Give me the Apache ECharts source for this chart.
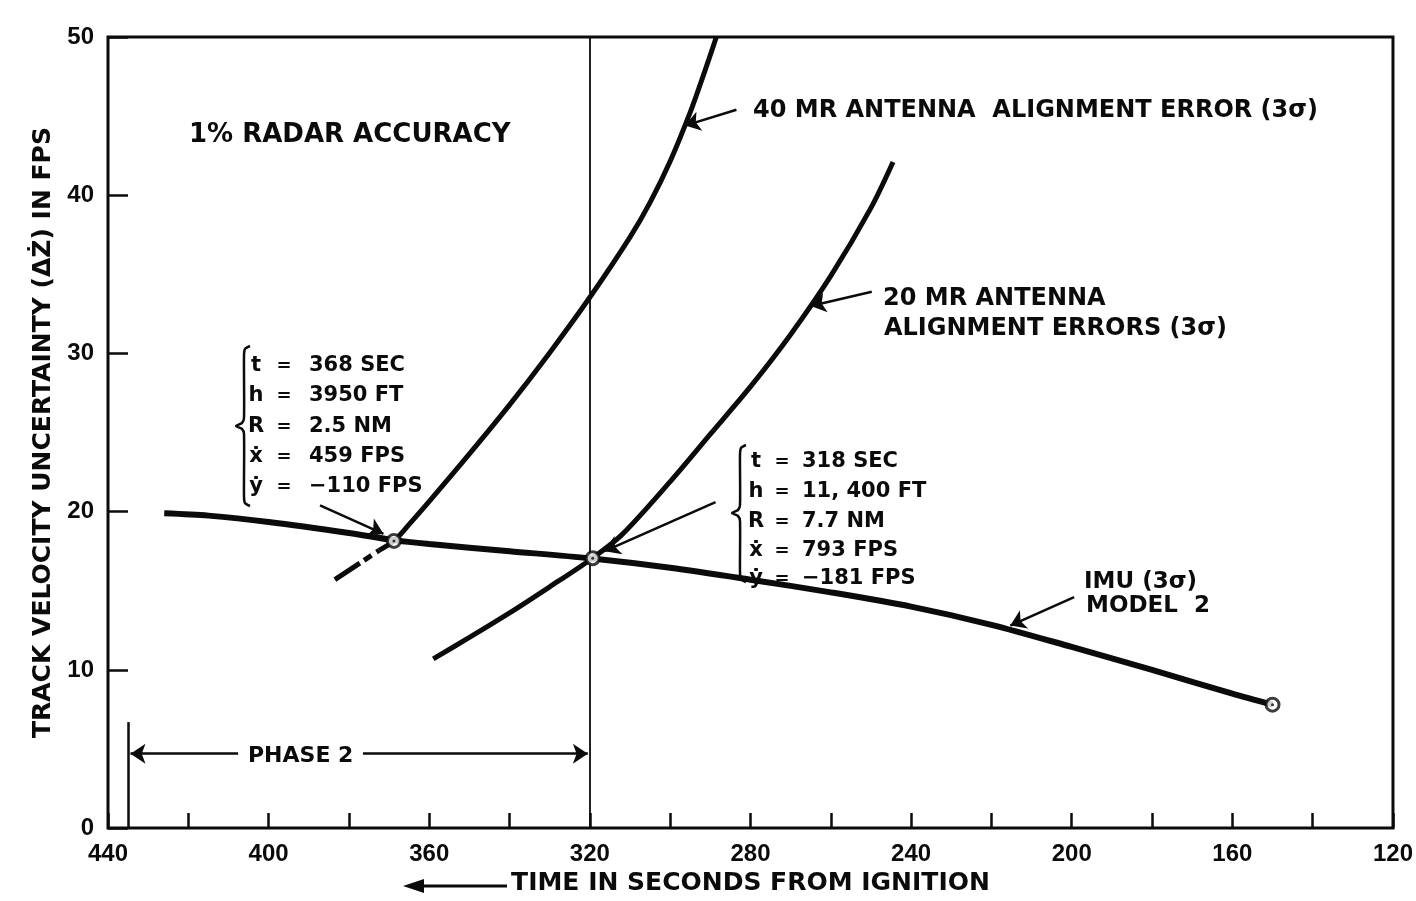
<!DOCTYPE html>
<html>
<head>
<meta charset="utf-8">
<script src="https://cdn.jsdelivr.net/npm/echarts@6/dist/echarts.min.js"></script>
<style>
  html, body { margin: 0; padding: 0; background: #fff; }
  #chart { width: 1416px; height: 901px; }
</style>
</head>
<body>
<div id="chart"></div>
<script>
// ---------------- data ----------------
const xTickLabels = [440, 400, 360, 320, 280, 240, 200, 160, 120];
const yTickLabels = [0, 10, 20, 30, 40, 50];

// IMU (3 sigma) model 2
const imuTime = [426, 415, 400, 380, 369, 360, 340, 320, 300, 280, 260, 240, 220, 200, 180, 160, 150];
const imuVal  = [19.9, 19.75, 19.35, 18.65, 18.2, 17.95, 17.5, 17.05, 16.45, 15.7, 14.9, 14.0, 12.85, 11.45, 10.0, 8.5, 7.8];

// 40 MR antenna alignment error (first 3 points are the dashed extension)
const mr40Time = [383.5, 377, 372.5, 368.8, 365, 360, 350, 340, 330, 320, 310, 305, 300, 295, 291.5, 288.5];
const mr40Val  = [15.7, 16.8, 17.55, 18.15, 19.2, 20.65, 23.65, 26.75, 30.05, 33.55, 37.35, 39.55, 42.15, 45.25, 47.75, 50];

// 20 MR antenna alignment errors
const mr20Time = [359, 350, 340, 330, 320, 312, 300, 290, 280, 270, 260, 250, 244.5];
const mr20Val  = [10.7, 12.05, 13.6, 15.25, 16.95, 18.55, 21.9, 24.9, 27.9, 31.2, 34.9, 39.2, 42.1];

// marked points (intersections and IMU end)
const markTime = [368.8, 319.3, 150];
const markVal  = [18.15, 17.05, 7.8];

// phase 2 limits (seconds)
const phaseStart = 435;
const phaseEnd = 320;

// annotation texts
const leftNote  = [['t', '368 SEC'], ['h', '3950 FT'], ['R', '2.5 NM'], ['ẋ', '459 FPS'], ['ẏ', '−110 FPS']];
const rightNote = [['t', '318 SEC'], ['h', '11, 400 FT'], ['R', '7.7 NM'], ['ẋ', '793 FPS'], ['ẏ', '−181 FPS']];

// ---------------- chart ----------------
const INK = '#0b0b0b';
const WORD = '"DejaVu Sans", "Liberation Sans", sans-serif';
const NUM = '"Liberation Sans", Arial, sans-serif';
const pair = (ts, vs) => ts.map((t, i) => [t, vs[i]]);

// annotation arrows, data units [time, value] -> [time, value]
const arrowLines = [
  [[283.5, 45.4], [296.3, 44.4]],
  [[249.8, 33.9], [265.0, 33.0]],
  [[199.4, 14.6], [215.3, 12.8]],
  [[387.2, 20.4], [371.4, 18.6]],
  [[288.7, 20.6], [316.3, 17.5]],
  [[407.6, 4.7], [phaseStart - 0.6, 4.7]],
  [[376.5, 4.7], [phaseEnd + 0.5, 4.7]]
];

const chart = echarts.init(document.getElementById('chart'), null, { renderer: 'canvas' });

function txt(x, y, text, size, align, family) {
  return {
    type: 'text', x: x, y: y, z: 50,
    style: {
      text: text, fill: INK,
      font: 'bold ' + size + 'px ' + (family || WORD),
      align: align || 'left', verticalAlign: 'middle',
      textAlign: align || 'left', textVerticalAlign: 'middle'
    }
  };
}
function brace(x0, yTop, yBot, yTip) {
  return {
    type: 'polyline', z: 50,
    shape: {
      points: [[x0 + 6, yTop], [x0 + 1, yTop + 3], [x0, yTop + 10], [x0, yTip - 8], [x0 - 2, yTip - 3], [x0 - 8, yTip],
               [x0 - 2, yTip + 3], [x0, yTip + 8], [x0, yBot - 10], [x0 + 1, yBot - 3], [x0 + 6, yBot]],
      smooth: 0.25
    },
    style: { stroke: INK, lineWidth: 2.5, fill: null }
  };
}

const graphics = [];
graphics.push(txt(189, 135, '1% RADAR ACCURACY', 26));
graphics.push(txt(753, 111, '40 MR ANTENNA  ALIGNMENT ERROR (3σ)', 24));
graphics.push(txt(883, 299, '20 MR ANTENNA', 24));
graphics.push(txt(884, 329, 'ALIGNMENT ERRORS (3σ)', 24));
graphics.push(txt(1084, 582, 'IMU (3σ)', 23));
graphics.push(txt(1086, 606, 'MODEL  2', 23));
graphics.push(txt(248, 756, 'PHASE 2', 22));

const leftRows = [366, 396, 427, 457, 487];
leftNote.forEach((r, i) => {
  graphics.push(txt(256, leftRows[i], r[0], 21, 'center'));
  graphics.push(txt(284, leftRows[i], '=', 18, 'center'));
  graphics.push(txt(309, leftRows[i], r[1], 21));
});
graphics.push(brace(244, 346, 506, 426));

const rightRows = [462, 492, 522, 551, 579];
rightNote.forEach((r, i) => {
  graphics.push(txt(756, rightRows[i], r[0], 21, 'center'));
  graphics.push(txt(782, rightRows[i], '=', 18, 'center'));
  graphics.push(txt(802, rightRows[i], r[1], 21));
});
graphics.push(brace(740, 445, 582, 513));

// arrow in front of the x-axis title
graphics.push({ type: 'line', z: 50, shape: { x1: 418, y1: 886, x2: 507, y2: 886 }, style: { stroke: INK, lineWidth: 3 } });
graphics.push({ type: 'polygon', z: 50, shape: { points: [[403, 886], [424, 879], [424, 893]] }, style: { fill: INK } });

chart.setOption({
  animation: false,
  backgroundColor: '#fff',
  grid: { left: 108, right: 15, top: 37, bottom: 69, show: true, borderColor: INK, borderWidth: 3, backgroundColor: 'transparent' },
  xAxis: {
    type: 'value', inverse: true, min: 120, max: 440, interval: 20,
    axisLine: { show: false },
    axisTick: { show: true, inside: true, length: 15, lineStyle: { color: INK, width: 2.5 } },
    splitLine: { show: false },
    axisLabel: {
      margin: 14, color: INK, fontFamily: NUM, fontWeight: 'bold', fontSize: 24,
      formatter: v => (xTickLabels.indexOf(v) >= 0 ? String(v) : '')
    },
    name: 'TIME IN SECONDS FROM IGNITION', nameLocation: 'middle', nameGap: 40,
    nameTextStyle: { color: INK, fontFamily: WORD, fontWeight: 'bold', fontSize: 25 }
  },
  yAxis: {
    type: 'value', min: 0, max: 50, interval: 10,
    axisLine: { show: false },
    axisTick: { show: true, inside: true, length: 20, lineStyle: { color: INK, width: 2.5 } },
    splitLine: { show: false },
    axisLabel: {
      margin: 14, color: INK, fontFamily: NUM, fontWeight: 'bold', fontSize: 24,
      formatter: v => (yTickLabels.indexOf(v) >= 0 ? String(v) : '')
    },
    name: 'TRACK VELOCITY UNCERTAINTY (ΔŻ) IN FPS', nameLocation: 'middle', nameGap: 50,
    nameTextStyle: { color: INK, fontFamily: WORD, fontWeight: 'bold', fontSize: 25 }
  },
  graphic: graphics,
  series: [
    {
      name: 'IMU (3σ) MODEL 2', type: 'line', data: pair(imuTime, imuVal),
      smooth: 0.3, symbol: 'none', z: 5,
      lineStyle: { color: INK, width: 6 },
      markLine: {
        silent: true, animation: false, symbol: ['none', 'arrow'], symbolSize: 15,
        label: { show: false },
        lineStyle: { color: INK, width: 2.5, type: 'solid' },
        itemStyle: { color: INK },
        emphasis: { disabled: true },
        data: arrowLines.map(a => [{ coord: a[0] }, { coord: a[1] }])
      }
    },
    {
      name: 'phase lines', type: 'line', data: [], z: 2,
      markLine: {
        silent: true, animation: false, symbol: 'none', label: { show: false },
        emphasis: { disabled: true },
        data: [
          [{ coord: [phaseEnd, 0], lineStyle: { color: INK, width: 1.8, type: 'solid' } },
           { coord: [phaseEnd, 50] }],
          [{ coord: [phaseStart, 0], lineStyle: { color: INK, width: 2.5, type: 'solid' } },
           { coord: [phaseStart, 6.7] }]
        ]
      }
    },
    {
      name: '40 MR dashed', type: 'line', data: pair(mr40Time.slice(0, 3), mr40Val.slice(0, 3)),
      symbol: 'none', z: 5,
      lineStyle: { color: INK, width: 5, type: [30, 5, 9, 6] }
    },
    {
      name: '40 MR ANTENNA ALIGNMENT ERROR (3σ)', type: 'line', data: pair(mr40Time.slice(2), mr40Val.slice(2)),
      smooth: 0.3, symbol: 'none', z: 5,
      lineStyle: { color: INK, width: 5 }
    },
    {
      name: '20 MR ANTENNA ALIGNMENT ERRORS (3σ)', type: 'line', data: pair(mr20Time, mr20Val),
      smooth: 0.3, symbol: 'none', z: 5,
      lineStyle: { color: INK, width: 5 }
    },
    {
      name: 'points', type: 'scatter', data: pair(markTime, markVal), z: 10,
      symbol: 'circle', symbolSize: 13,
      itemStyle: { color: '#fff', borderColor: INK, borderWidth: 3 }
    },
    {
      name: 'point centres', type: 'scatter', data: pair(markTime, markVal), z: 11,
      symbol: 'circle', symbolSize: 3,
      itemStyle: { color: INK }
    }
  ]
});
</script>
</body>
</html>
